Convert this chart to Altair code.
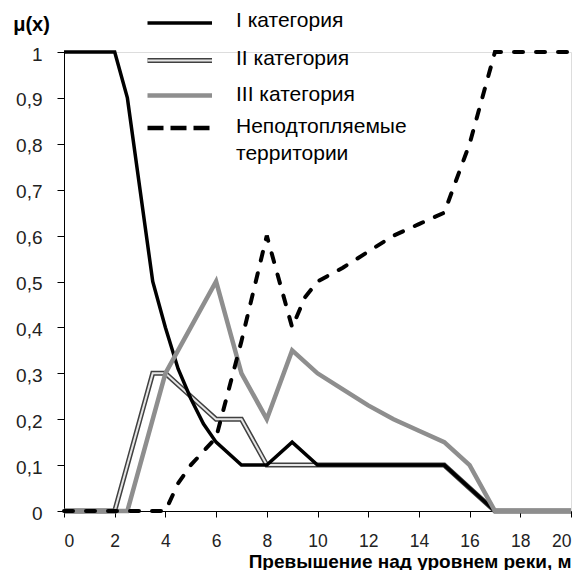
import altair as alt
import pandas as pd

# ---- data ----
X_I = [0, 1, 2, 2.5, 3, 3.5, 4, 4.5, 5, 5.5, 6, 7, 8, 9, 10, 11, 12, 13, 14, 15, 16, 17]
Y_I = [1, 1, 1, 0.9, 0.7, 0.5, 0.4, 0.31, 0.245, 0.19, 0.15, 0.1, 0.1, 0.15, 0.1, 0.1, 0.1, 0.1, 0.1, 0.1, 0.05, 0]

X_II = [0, 1, 2, 2.5, 3, 3.5, 4, 5, 6, 7, 8, 9, 10, 11, 12, 13, 14, 15, 16, 17, 18, 19, 20]
Y_II = [0, 0, 0, 0.1, 0.2, 0.3, 0.3, 0.25, 0.2, 0.2, 0.1, 0.1, 0.1, 0.1, 0.1, 0.1, 0.1, 0.1, 0.05, 0, 0, 0, 0]

X_III = [0, 1, 2, 2.5, 3, 4, 5, 6, 7, 8, 9, 10, 11, 12, 13, 14, 15, 16, 17, 18, 19, 20]
Y_III = [0, 0, 0, 0, 0.1, 0.3, 0.4, 0.5, 0.3, 0.2, 0.35, 0.3, 0.265, 0.23, 0.2, 0.175, 0.15, 0.1, 0, 0, 0, 0]

X_NF = [0, 1, 2, 3, 4, 4.5, 5, 5.5, 6, 7, 8, 9, 9.5, 10, 11, 12, 13, 14, 15, 16, 17, 18, 19, 20]
Y_NF = [0, 0, 0, 0, 0, 0.06, 0.1, 0.13, 0.16, 0.37, 0.6, 0.4, 0.465, 0.5, 0.53, 0.565, 0.6, 0.625, 0.65, 0.8, 1, 1, 1, 1]

LEGEND_LABELS = ["I категория", "II категория", "III категория", "Неподтопляемые", "территории"]
X_TICKS = [0, 2, 4, 6, 8, 10, 12, 14, 16, 18, 20]
Y_TICKS = [0, 0.1, 0.2, 0.3, 0.4, 0.5, 0.6, 0.7, 0.8, 0.9, 1.0]
X_TITLE = "Превышение над уровнем реки, м"
Y_TITLE = "μ(x)"

FONT = "Liberation Sans"
W, H = 507, 459

df_I = pd.DataFrame({"x": X_I, "y": Y_I})
df_II = pd.DataFrame({"x": X_II, "y": Y_II})
df_III = pd.DataFrame({"x": X_III, "y": Y_III})
df_NF = pd.DataFrame({"x": X_NF, "y": Y_NF})

xs = alt.Scale(domain=[0, 20], nice=False, zero=False)
ys = alt.Scale(domain=[0, 1], nice=False)

x_axis = alt.Axis(
    values=X_TICKS, grid=False, domainColor="black", tickColor="black", tickSize=6,
    labelFont=FONT, labelFontSize=17.5, labelColor="#222", labelPadding=15,
    title=X_TITLE, titleFont=FONT, titleFontSize=19, titleFontWeight="bold",
    titleColor="black", titleAnchor="end", titleAlign="right", titleX=W, titleY=56,
    titleBaseline="alphabetic",
)
y_axis = alt.Axis(
    values=Y_TICKS, grid=False, domainColor="black", tickColor="black", tickSize=7,
    labelFont=FONT, labelFontSize=19, labelColor="#222", labelPadding=15, labelOffset=2,
    labelExpr="datum.value == 0 ? '0' : datum.value == 1 ? '1' : replace(format(datum.value, '.1f'), '.', ',')",
    title=Y_TITLE, titleFont=FONT, titleFontSize=20, titleFontWeight="bold", titleColor="black",
    titleAngle=0, titleX=-33, titleY=-22, titleAlign="center", titleBaseline="alphabetic",
)


def line(df, color, width, dash=None, axes=False, cap="butt"):
    kw = dict(color=color, strokeWidth=width, strokeJoin="miter", strokeCap=cap)
    if dash:
        kw["strokeDash"] = dash
    m = alt.Chart(df).mark_line(**kw)
    if axes:
        return m.encode(x=alt.X("x:Q", scale=xs, axis=x_axis), y=alt.Y("y:Q", scale=ys, axis=y_axis))
    return m.encode(x=alt.X("x:Q", scale=xs), y=alt.Y("y:Q", scale=ys))


GRAY = "#8e8e8e"
layers = [
    line(df_II, "#404040", 5, axes=True),
    line(df_II, "#e6e6e6", 2),
    line(df_I, "black", 3.5),
    line(df_III, GRAY, 4.5),
    line(df_NF, "black", 4, dash=[9, 13], cap="round"),
]

# ---- legend (drawn manually) ----
LX1, LX2, TX = 83.5, 148, 172
leg_y = [-29, 8.4, 43.4, 76]
txt_y = [-25, 12.7, 49.4, 81, 107.7]

dummy = pd.DataFrame({"a": [0]})


def leg_line(y, color, width, dash=None):
    kw = dict(color=color, strokeWidth=width)
    if dash:
        kw["strokeDash"] = dash
    return alt.Chart(dummy).mark_rule(**kw).encode(
        x=alt.value(LX1), x2=alt.value(LX2), y=alt.value(y)
    )


layers += [
    leg_line(leg_y[0], "black", 3.5),
    leg_line(leg_y[1], "#404040", 5),
    leg_line(leg_y[1], "#e6e6e6", 2),
    leg_line(leg_y[2], GRAY, 4.5),
    leg_line(leg_y[3], "black", 4.5, dash=[16, 7]),
]
for lab, ty in zip(LEGEND_LABELS, txt_y):
    layers.append(
        alt.Chart(pd.DataFrame({"t": [lab]})).mark_text(
            align="left", baseline="alphabetic", font=FONT, fontSize=21, color="black"
        ).encode(x=alt.value(TX), y=alt.value(ty), text="t:N")
    )

chart = alt.layer(*layers).properties(
    width=W, height=H,
    padding={"left": 56, "top": 44, "right": 3, "bottom": 59},
    autosize=alt.AutoSizeParams(type="none"),
).configure_view(stroke=None).configure(background="white")

chart.save("out.html", embed_options={"renderer": "svg", "actions": False})
